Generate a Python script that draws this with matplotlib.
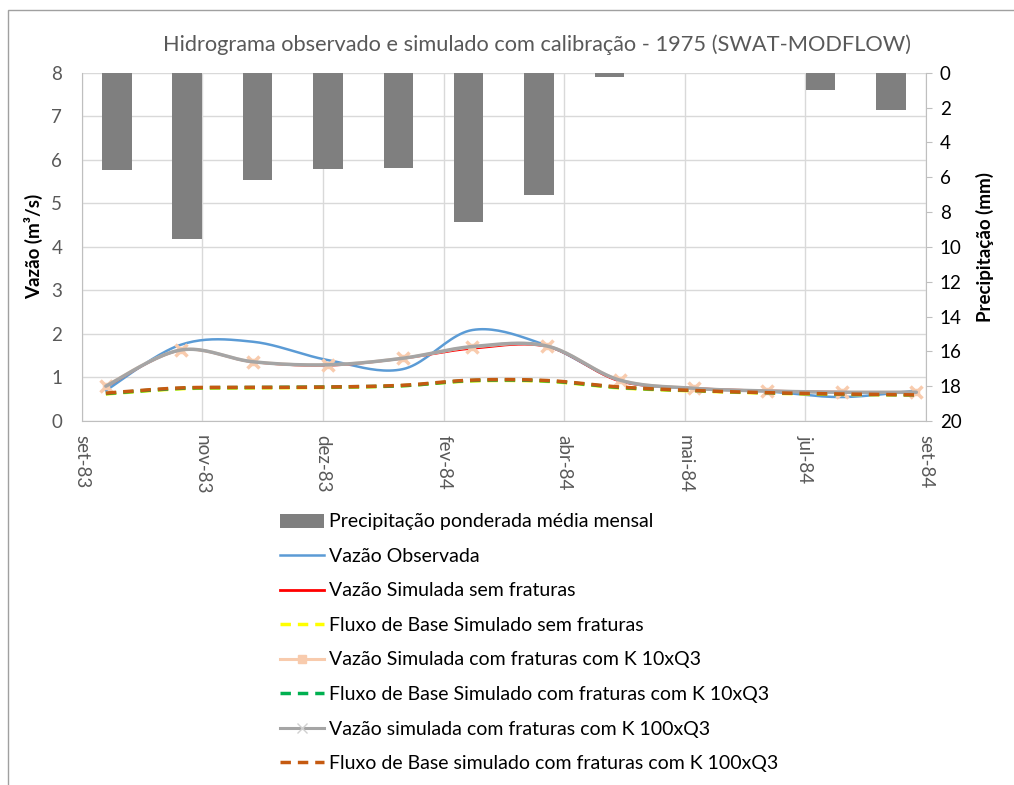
import numpy as np
import pandas as pd
import matplotlib

matplotlib.use("Agg")
import matplotlib.pyplot as plt
import matplotlib.dates as mdates
import matplotlib.patches as mpatches
from matplotlib.lines import Line2D

plt.rcParams["font.family"] = ["Lato", "DejaVu Sans"]

# Monthly series (end of month), Sep/1983 - Aug/1984
dates = pd.date_range("1983-09-30", periods=12, freq="ME")

precip = [5.6, 9.55, 6.15, 5.55, 5.5, 8.6, 7.0, 0.23, 0.0, 0.0, 1.0, 2.13]

q_obs = [0.70, 1.75, 1.82, 1.40, 1.19, 2.09, 1.73, 0.93, 0.75, 0.68, 0.55, 0.70]
q_sem = [0.78, 1.62, 1.35, 1.27, 1.43, 1.66, 1.70, 0.91, 0.76, 0.70, 0.67, 0.66]
bf_sem = [0.62, 0.74, 0.76, 0.77, 0.81, 0.92, 0.91, 0.76, 0.69, 0.64, 0.61, 0.60]
q_10 = [0.81, 1.63, 1.36, 1.29, 1.44, 1.70, 1.72, 0.94, 0.75, 0.69, 0.66, 0.66]
bf_10 = [0.63, 0.75, 0.77, 0.78, 0.81, 0.93, 0.92, 0.77, 0.70, 0.65, 0.62, 0.60]
q_100 = [0.80, 1.63, 1.36, 1.29, 1.44, 1.71, 1.72, 0.94, 0.75, 0.69, 0.66, 0.66]
bf_100 = [0.64, 0.76, 0.77, 0.78, 0.82, 0.94, 0.93, 0.78, 0.70, 0.65, 0.62, 0.60]

tick_labels = ["set-83", "nov-83", "dez-83", "fev-84", "abr-84", "mai-84", "jul-84", "set-84"]

labels = [
    "Precipitação ponderada média mensal",
    "Vazão Observada",
    "Vazão Simulada sem fraturas",
    "Fluxo de Base Simulado sem fraturas",
    "Vazão Simulada com fraturas com K 10xQ3",
    "Fluxo de Base Simulado com fraturas com K 10xQ3",
    "Vazão simulada com fraturas com K 100xQ3",
    "Fluxo de Base simulado com fraturas com K 100xQ3",
]

TXT = "#595959"
GRID = "#d9d9d9"
AXIS = "#bfbfbf"


def smooth(x, y, n=24):
    """Bezier smoothing through the points (same scheme as spreadsheet smoothed lines)"""
    pts = np.column_stack([x, y]).astype(float)
    pad = np.vstack([pts[0], pts, pts[-1]])
    t = np.linspace(0, 1, n)[:, None]
    out = []
    for i in range(len(pts) - 1):
        p0, p1, p2, p3 = pad[i], pad[i + 1], pad[i + 2], pad[i + 3]
        c1 = p1 + (p2 - p0) / 6
        c2 = p2 - (p3 - p1) / 6
        seg = (1 - t) ** 3 * p1 + 3 * (1 - t) ** 2 * t * c1 + 3 * (1 - t) * t ** 2 * c2 + t ** 3 * p2
        out.append(seg if i == 0 else seg[1:])
    out = np.vstack(out)
    return out[:, 0], out[:, 1]


fig = plt.figure(figsize=(10.14, 7.85), dpi=100)
pos = [0.0806, 0.4637, 0.8326, 0.4437]

# chart border
fig.add_artist(mpatches.Rectangle((8 / 1014, -0.05), 1.2, 1 - 10 / 785 + 0.05,
                                  transform=fig.transFigure, fill=False,
                                  edgecolor="#a0a0a0", linewidth=1.0))

xmin = mdates.date2num(pd.Timestamp("1983-09-20"))
xmax = xmin + 350
ticks = [xmin + 50 * i for i in range(len(tick_labels))]

# grid layer
ax_g = fig.add_axes(pos)
ax_g.set_xlim(xmin, xmax)
ax_g.set_ylim(0, 8)
ax_g.set_xticks(ticks)
ax_g.set_yticks(range(0, 9))
ax_g.grid(True, color=GRID, linewidth=1.0)
ax_g.tick_params(left=False, bottom=False, labelleft=False, labelbottom=False)
for s in ax_g.spines.values():
    s.set_visible(False)

# precipitation bars (secondary, inverted)
ax_b = fig.add_axes(pos, zorder=2)
ax_b.patch.set_visible(False)
cats = np.arange(len(precip)) + 0.5
ax_b.bar(cats, precip, width=0.42, color="#7f7f7f")
ax_b.set_xlim(0, len(precip))
ax_b.set_ylim(20, 0)
ax_b.set_yticks(range(0, 21, 2))
ax_b.yaxis.tick_right()
ax_b.yaxis.set_label_position("right")
ax_b.tick_params(axis="y", direction="out", length=4, color=AXIS, labelsize=13.5, labelcolor="black", pad=6)
ax_b.tick_params(axis="x", bottom=False, labelbottom=False)
for k in ["top", "left", "bottom"]:
    ax_b.spines[k].set_visible(False)
ax_b.spines["right"].set_color(AXIS)
ax_b.set_ylabel("Precipitação (mm)", fontsize=13.5, fontweight="bold", labelpad=10)

# flows
ax = fig.add_axes(pos, zorder=3)
ax.patch.set_visible(False)
xd = mdates.date2num(dates)

styles = [
    (q_obs, dict(color="#5b9bd5", lw=1.8)),
    (q_sem, dict(color="#ff0000", lw=1.3)),
    (bf_sem, dict(color="#ffff00", lw=2.5, dashes=(3, 2))),
    (q_10, dict(color="#f8cbad", lw=2.2)),
    (bf_10, dict(color="#00b050", lw=2.5, dashes=(3, 2))),
    (q_100, dict(color="#a5a5a5", lw=2.5)),
    (bf_100, dict(color="#c55a11", lw=2.5, dashes=(3, 2))),
]
for vals, st in styles:
    sx, sy = smooth(xd, vals)
    ax.plot(sx, sy, solid_capstyle="round", **st)
    if vals is q_10:
        ax.plot(xd, vals, ls="none", marker="s", ms=5, color="#f8cbad")
        ax.plot(xd, vals, ls="none", marker="x", ms=9, mew=2.5, color="#f8cbad")

ax.set_xlim(xmin, xmax)
ax.set_ylim(0, 8)
ax.set_yticks(range(0, 9))
ax.set_xticks(ticks)
ax.set_xticklabels(tick_labels, rotation=270, ha="center", va="top")
ax.tick_params(axis="x", length=0, labelsize=13.5, labelcolor=TXT, pad=10)
ax.tick_params(axis="y", length=0, labelsize=13.5, labelcolor=TXT, pad=14)
for k in ["top", "right"]:
    ax.spines[k].set_visible(False)
for k in ["left", "bottom"]:
    ax.spines[k].set_color(AXIS)
ax.set_ylabel("Vazão (m³/s)", fontsize=13.5, fontweight="bold", labelpad=6)

fig.text(537 / 1014, 1 - 45 / 785, "Hidrograma observado e simulado com calibração - 1975 (SWAT-MODFLOW)",
         ha="center", va="center", fontsize=15.7, color=TXT)

# legend
handles = [
    mpatches.Patch(facecolor="#7f7f7f"),
    Line2D([], [], color="#5b9bd5", lw=1.8),
    Line2D([], [], color="#ff0000", lw=2),
    Line2D([], [], color="#ffff00", lw=2.5, dashes=(3, 2)),
    Line2D([], [], color="#f8cbad", lw=2.2, marker="s", ms=6),
    Line2D([], [], color="#00b050", lw=2.5, dashes=(3, 2)),
    Line2D([], [], color="#a5a5a5", lw=2.2, marker="x", ms=7, mec="#d0d0d0"),
    Line2D([], [], color="#c55a11", lw=2.5, dashes=(3, 2)),
]
fig.legend(handles, labels, loc="upper left", bbox_to_anchor=(262 / 1014, 1 - 496 / 785),
           frameon=False, fontsize=14, labelspacing=0.9, handlelength=2.27,
           handleheight=0.75, handletextpad=0.26, labelcolor="black")

plt.savefig("out.png", dpi=100)
